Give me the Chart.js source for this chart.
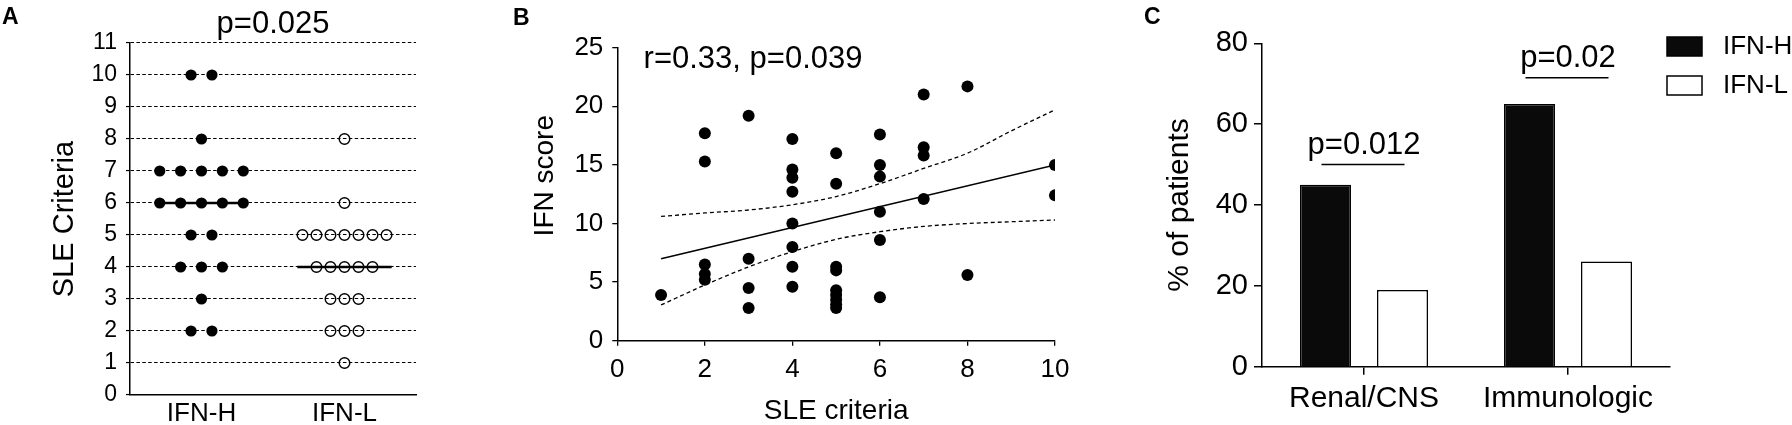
<!DOCTYPE html>
<html>
<head>
<meta charset="utf-8">
<script src="https://cdn.jsdelivr.net/npm/chart.js@4.4.1/dist/chart.umd.min.js"></script>
<style>
  html, body { margin: 0; padding: 0; background: #fff; }
  #wrap { position: relative; width: 1792px; height: 425px; }
  canvas { position: absolute; top: 0; }
</style>
</head>
<body>
<div id="wrap">
  <canvas id="chartA" width="440" height="425" style="left:0"></canvas>
  <canvas id="chartB" width="680" height="425" style="left:440px"></canvas>
  <canvas id="chartC" width="672" height="425" style="left:1120px"></canvas>
</div>
<script>
// panel A: number of SLE criteria per patient, by IFN group
const groupLabels = ['IFN-H', 'IFN-L'];
const sleIfnH = [10, 10, 8, 7, 7, 7, 7, 7, 6, 6, 6, 6, 6, 5, 5, 4, 4, 4, 3, 2, 2];
const sleIfnL = [8, 6, 5, 5, 5, 5, 5, 5, 5, 4, 4, 4, 4, 4, 3, 3, 3, 2, 2, 2, 1];
const pValueA = 'p=0.025';

// panel B: IFN score vs SLE criteria
const sleCriteria = [1, 2, 2, 2, 2, 2, 3, 3, 3, 3, 4, 4, 4, 4, 4, 4, 4, 4,
  5, 5, 5, 5, 5, 5, 5, 5, 5, 6, 6, 6, 6, 6, 6, 7, 7, 7, 7, 8, 8, 10, 10];
const ifnScore = [3.9, 17.7, 15.3, 6.5, 5.7, 5.2, 19.2, 7.0, 4.5, 2.8,
  17.2, 14.6, 13.9, 12.7, 10.0, 8.0, 6.3, 4.6,
  16.0, 13.4, 6.3, 6.0, 4.3, 3.9, 3.5, 3.1, 2.8,
  17.6, 15.0, 14.0, 11.0, 8.6, 3.7, 21.0, 16.5, 15.8, 12.1, 21.7, 5.6, 15.0, 12.4];
const fitX = [1, 10];
const fitY = [7.0, 15.0];
const bandX = [1, 2, 3, 4, 5, 6, 7, 8, 9, 10];
const bandUpper = [10.6, 10.9, 11.15, 11.6, 12.3, 13.4, 14.7, 16.0, 17.9, 19.7];
const bandLower = [3.05, 4.75, 6.3, 7.6, 8.65, 9.3, 9.75, 10.0, 10.15, 10.3];
const corrTextB = 'r=0.33, p=0.039';

// panel C: % of patients with manifestation
const manifestations = ['Renal/CNS', 'Immunologic'];
const pctIfnH = [45, 65];
const pctIfnL = [19, 26];
const pLabelsC = ['p=0.012', 'p=0.02'];
const pLineY = [50, 71.5];

const FONT = "'Liberation Sans', Arial, Helvetica, sans-serif";
Chart.defaults.font.family = FONT;
Chart.defaults.color = '#000';

// spread equal values side by side (dot plot)
function swarm(values, center, step) {
  const counts = {}, seen = {};
  values.forEach(v => counts[v] = (counts[v] || 0) + 1);
  return values.map(v => {
    seen[v] = seen[v] === undefined ? 0 : seen[v] + 1;
    return { x: center + (seen[v] - (counts[v] - 1) / 2) * step, y: v };
  });
}

function median(values) {
  const s = [...values].sort((a, b) => a - b);
  const m = Math.floor(s.length / 2);
  return s.length % 2 ? s[m] : (s[m - 1] + s[m]) / 2;
}

function pairs(xs, ys) {
  return xs.map((x, i) => ({ x: x, y: ys[i] }));
}

// panel letter + free text placed in data coordinates
function notes(letter, lx, ly, items) {
  return {
    id: 'notes' + letter,
    afterDraw(chart) {
      const ctx = chart.ctx;
      ctx.save();
      ctx.fillStyle = '#000';
      ctx.textBaseline = 'alphabetic';
      ctx.font = 'bold 23px ' + FONT;
      ctx.textAlign = 'left';
      ctx.fillText(letter, lx, ly);
      items.forEach(it => {
        ctx.font = it.size + 'px ' + FONT;
        ctx.textAlign = it.align;
        ctx.fillText(it.text, chart.scales.x.getPixelForValue(it.x), chart.scales.y.getPixelForValue(it.y));
      });
      ctx.restore();
    }
  };
}

const black = '#000';

// ---------- A ----------
new Chart(document.getElementById('chartA'), {
  type: 'scatter',
  data: {
    datasets: [
      { data: swarm(sleIfnH, 1, 0.146), pointRadius: 5.6, backgroundColor: black, borderWidth: 0 },
      { data: swarm(sleIfnL, 2, 0.098), pointRadius: 5.3, backgroundColor: 'rgba(0,0,0,0)',
        borderColor: black, borderWidth: 1.4 },
      { data: [{ x: 1 - 0.29, y: median(sleIfnH) }, { x: 1 + 0.29, y: median(sleIfnH) }],
        showLine: true, pointRadius: 0, borderColor: black, borderWidth: 2.5 },
      { data: [{ x: 2 - 0.33, y: median(sleIfnL) }, { x: 2 + 0.33, y: median(sleIfnL) }],
        showLine: true, pointRadius: 0, borderColor: black, borderWidth: 2.5 }
    ]
  },
  options: {
    animation: false, responsive: false, events: [],
    layout: { padding: { top: 43, right: 24, left: 0, bottom: 0 } },
    plugins: { legend: { display: false }, tooltip: { enabled: false } },
    scales: {
      x: {
        type: 'linear', min: 0.5, max: 2.5,
        afterFit: s => { s.height = 30; },
        afterBuildTicks: s => { s.ticks = [{ value: 1 }, { value: 2 }]; },
        ticks: { callback: v => groupLabels[v - 1], font: { size: 26 }, padding: 3, autoSkip: false, maxRotation: 0 },
        grid: { display: false, drawTicks: false },
        border: { color: black, width: 1.5 }
      },
      y: {
        min: 0, max: 11,
        afterFit: s => { s.width = 130; },
        ticks: { stepSize: 1, font: { size: 23 }, padding: 9, autoSkip: false },
        grid: { color: black, lineWidth: 1.1, tickLength: 4, tickColor: black, tickWidth: 1.2, tickBorderDash: [] },
        border: { color: black, width: 1.5, dash: [3.5, 2.4] },
        title: { display: true, text: 'SLE Criteria', font: { size: 29, lineHeight: 1 }, padding: { top: 50, bottom: 0 } }
      }
    }
  },
  plugins: [notes('A', 2, 24, [{ text: pValueA, x: 1.5, y: 11.3, size: 31, align: 'center' }])]
});

// ---------- B ----------
const yTitleB = {
  id: 'yTitleB',
  afterDraw(chart) {
    const ctx = chart.ctx;
    ctx.save();
    ctx.translate(105, chart.chartArea.top + 128);
    ctx.rotate(-Math.PI / 2);
    ctx.font = '28px ' + FONT;
    ctx.fillStyle = black;
    ctx.textAlign = 'center';
    ctx.textBaseline = 'middle';
    ctx.fillText('IFN score', 0, 0);
    ctx.restore();
  }
};

new Chart(document.getElementById('chartB'), {
  type: 'scatter',
  data: {
    datasets: [
      { data: pairs(sleCriteria, ifnScore), pointRadius: 6, backgroundColor: black, borderWidth: 0 },
      { data: pairs(fitX, fitY), showLine: true, pointRadius: 0, borderColor: black, borderWidth: 1.5 },
      { data: pairs(bandX, bandUpper), showLine: true, pointRadius: 0, borderColor: black, borderWidth: 1.3,
        borderDash: [4, 3], cubicInterpolationMode: 'monotone' },
      { data: pairs(bandX, bandLower), showLine: true, pointRadius: 0, borderColor: black, borderWidth: 1.3,
        borderDash: [4, 3], cubicInterpolationMode: 'monotone' }
    ]
  },
  options: {
    animation: false, responsive: false, events: [],
    layout: { padding: { top: 47.7, right: 65, left: 0, bottom: 0 } },
    plugins: { legend: { display: false }, tooltip: { enabled: false } },
    scales: {
      x: {
        type: 'linear', min: 0, max: 10,
        afterFit: s => { s.height = 84.3; },
        ticks: { stepSize: 2, font: { size: 26 }, padding: 9, maxRotation: 0 },
        grid: { drawOnChartArea: false, tickLength: 5, color: black, lineWidth: 1.3 },
        border: { color: black, width: 1.5 },
        title: { display: true, text: 'SLE criteria', font: { size: 28, lineHeight: 1 }, padding: { top: 0, bottom: 0 } }
      },
      y: {
        min: 0, max: 25,
        afterFit: s => { s.width = 177.3; },
        ticks: { stepSize: 5, font: { size: 26 }, padding: 9 },
        grid: { drawOnChartArea: false, tickLength: 5, color: black, lineWidth: 1.3 },
        border: { color: black, width: 1.5 }
      }
    }
  },
  plugins: [yTitleB, notes('B', 73, 25, [{ text: corrTextB, x: 0.6, y: 23.3, size: 31, align: 'left' }])]
});

// ---------- C ----------
const sigAndLegend = {
  id: 'sigAndLegend',
  afterDatasetsDraw(chart) {
    const ctx = chart.ctx;
    const y = chart.scales.y, x = chart.scales.x;
    const metaH = chart.getDatasetMeta(0), metaL = chart.getDatasetMeta(1);
    ctx.save();
    ctx.strokeStyle = black;
    ctx.fillStyle = black;
    ctx.lineWidth = 1.5;
    ctx.font = '31px ' + FONT;
    ctx.textAlign = 'center';
    ctx.textBaseline = 'alphabetic';
    pLabelsC.forEach((t, i) => {
      const py = y.getPixelForValue(pLineY[i]);
      ctx.beginPath();
      ctx.moveTo(metaH.data[i].x - 4, py);
      ctx.lineTo(metaL.data[i].x + 2, py);
      ctx.stroke();
      ctx.fillText(t, x.getPixelForValue(i), py - 11);
    });
    // legend
    const left = chart.chartArea.right - 3;
    ctx.font = '26px ' + FONT;
    ctx.textAlign = 'left';
    ctx.textBaseline = 'middle';
    chart.data.datasets.forEach((ds, i) => {
      const top = 37 + i * 39;
      ctx.fillStyle = ds.backgroundColor;
      ctx.fillRect(left, top, 35, 19);
      ctx.lineWidth = 1.5;
      ctx.strokeRect(left, top, 35, 19);
      ctx.fillStyle = black;
      ctx.fillText(ds.label, left + 56, top + 10);
    });
    ctx.restore();
  }
};

new Chart(document.getElementById('chartC'), {
  type: 'bar',
  data: {
    labels: manifestations,
    datasets: [
      { label: 'IFN-H', data: pctIfnH, backgroundColor: '#0a0a0a', borderColor: black, borderWidth: 1.5 },
      { label: 'IFN-L', data: pctIfnL, backgroundColor: '#ffffff', borderColor: black, borderWidth: 1.5 }
    ]
  },
  options: {
    animation: false, responsive: false, events: [],
    datasets: { bar: { categoryPercentage: 0.755, barPercentage: 0.662 } },
    layout: { padding: { top: 43.3, right: 122, left: 0, bottom: 0 } },
    plugins: { legend: { display: false }, tooltip: { enabled: false } },
    scales: {
      x: {
        afterFit: s => { s.height = 58.3; },
        ticks: { font: { size: 30 }, padding: 5.6, maxRotation: 0 },
        grid: { offset: false, drawOnChartArea: false, tickLength: 8, color: black, lineWidth: 1.5 },
        border: { color: black, width: 1.5 }
      },
      y: {
        min: 0, max: 80,
        afterFit: s => { s.width = 142; },
        ticks: { stepSize: 20, font: { size: 29 }, padding: 6 },
        grid: { drawOnChartArea: false, tickLength: 8, color: black, lineWidth: 1.5 },
        border: { color: black, width: 1.5 },
        title: { display: true, text: '% of patients', font: { size: 30, lineHeight: 1 }, padding: { top: 45, bottom: 0 } }
      }
    }
  },
  plugins: [sigAndLegend, notes('C', 24, 24, [])]
});
</script>
</body>
</html>
